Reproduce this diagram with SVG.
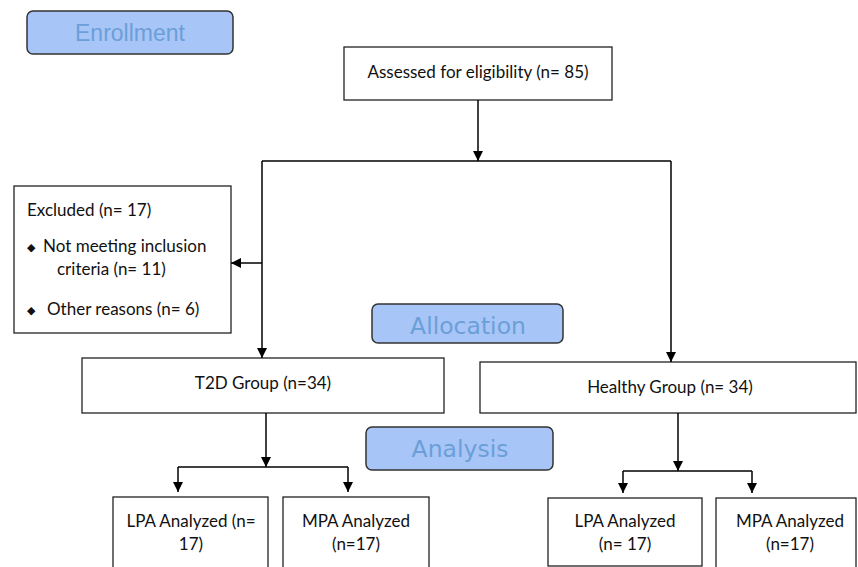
<svg xmlns="http://www.w3.org/2000/svg" width="858" height="567" viewBox="0 0 858 567">
<style>
.box{fill:#fff;stroke:#222;stroke-width:1.3}
.sec{fill:#a8c5f7;stroke:#333;stroke-width:1.5}
.t{font-family:Lato,"Open Sans",sans-serif;font-size:17px;fill:#111}
.st{font-family:"DejaVu Sans",sans-serif;font-size:23.5px;fill:#6b9fd8}
.ln{fill:none;stroke:#000;stroke-width:1.5}
</style>
<defs>
<marker id="ah" viewBox="0 0 10 10" refX="10" refY="5" markerWidth="10" markerHeight="10" markerUnits="userSpaceOnUse" orient="auto">
<path d="M0,0 L10,5 L0,10 z" fill="#000"/>
</marker>
</defs>
<g id="enrollment"><rect class="sec" x="27" y="11" width="206" height="43" rx="6"/><text class="st" x="130" y="41" text-anchor="middle" style="font-family:'Liberation Sans',Arial,sans-serif;font-size:23px">Enrollment</text></g>
<g id="assessed"><rect class="box" x="344" y="47" width="268" height="53"/><text class="t" x="478" y="78" text-anchor="middle">Assessed for eligibility (n= 85)</text></g>
<g id="excluded"><rect class="box" x="14" y="186" width="217" height="147"/>
<text class="t" x="27" y="216">Excluded (n= 17)</text>
<text class="t" x="27" y="251" style="font-size:11px">◆</text>
<text class="t" x="43" y="252">Not meeting inclusion</text>
<text class="t" x="57" y="275">criteria (n= 11)</text>
<text class="t" x="27" y="314" style="font-size:11px">◆</text>
<text class="t" x="47" y="315">Other reasons (n= 6)</text></g>
<g id="allocation"><rect class="sec" x="372" y="304" width="191" height="39" rx="6"/><text class="st" x="468" y="334" text-anchor="middle">Allocation</text></g>
<g id="t2d"><rect class="box" x="82" y="358" width="362" height="55"/><text class="t" x="263" y="389" text-anchor="middle">T2D Group (n=34)</text></g>
<g id="healthy"><rect class="box" x="480" y="362" width="376" height="51"/><text class="t" x="670" y="393" text-anchor="middle">Healthy Group (n= 34)</text></g>
<g id="analysis"><rect class="sec" x="366" y="427" width="187" height="43" rx="6"/><text class="st" x="460" y="457" text-anchor="middle">Analysis</text></g>
<g id="lpa1"><rect class="box" x="113" y="497" width="155" height="75"/><text class="t" x="191" y="527" text-anchor="middle">LPA Analyzed (n=</text><text class="t" x="191" y="550" text-anchor="middle">17)</text></g>
<g id="mpa1"><rect class="box" x="283" y="497" width="146" height="75"/><text class="t" x="356" y="527" text-anchor="middle">MPA Analyzed</text><text class="t" x="356" y="550" text-anchor="middle">(n=17)</text></g>
<g id="lpa2"><rect class="box" x="548" y="498" width="154" height="68"/><text class="t" x="625" y="527" text-anchor="middle">LPA Analyzed</text><text class="t" x="625" y="550" text-anchor="middle">(n= 17)</text></g>
<g id="mpa2"><rect class="box" x="716" y="498" width="140" height="75"/><text class="t" x="790" y="527" text-anchor="middle">MPA Analyzed</text><text class="t" x="790" y="550" text-anchor="middle">(n=17)</text></g>
<g id="connectors">
<path class="ln" d="M478,100 V161" marker-end="url(#ah)"/>
<path class="ln" d="M262,161 H671"/>
<path class="ln" d="M262,161 V358" marker-end="url(#ah)"/>
<path class="ln" d="M262,263 H231" marker-end="url(#ah)"/>
<path class="ln" d="M671,161 V362" marker-end="url(#ah)"/>
<path class="ln" d="M266,413 V467" marker-end="url(#ah)"/>
<path class="ln" d="M178,467 H348"/>
<path class="ln" d="M178,467 V492" marker-end="url(#ah)"/>
<path class="ln" d="M348,467 V492" marker-end="url(#ah)"/>
<path class="ln" d="M678,413 V471" marker-end="url(#ah)"/>
<path class="ln" d="M623,471 H752"/>
<path class="ln" d="M623,471 V493" marker-end="url(#ah)"/>
<path class="ln" d="M752,471 V493" marker-end="url(#ah)"/>
</g>
</svg>
